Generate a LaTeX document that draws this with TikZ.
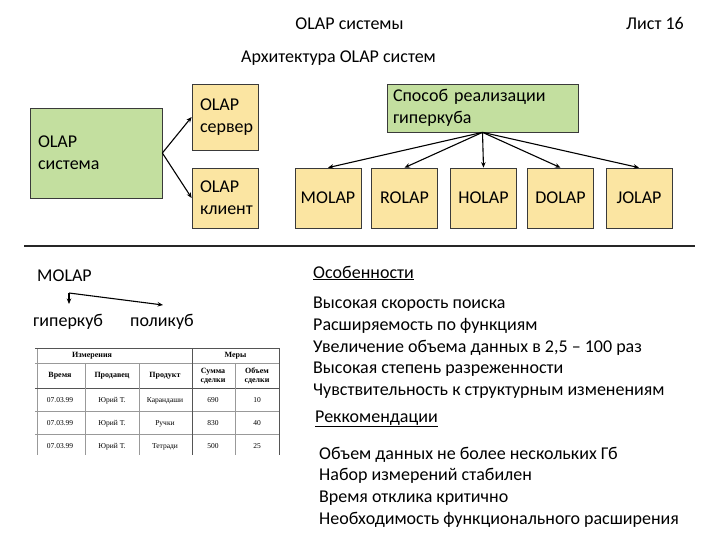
\documentclass[tikz,border=0pt]{standalone}
\usepackage{fontspec}
\setmainfont{Carlito}
\newfontfamily\tabfont{Liberation Serif}
\usetikzlibrary{arrows.meta}
\definecolor{boxgreen}{HTML}{C3DF9F}
\definecolor{boxyellow}{HTML}{FBE5A2}
\definecolor{boxline}{HTML}{3A3A3A}
\definecolor{tabline}{HTML}{555555}
\definecolor{tabthin}{HTML}{999999}
\begin{document}
\begin{tikzpicture}[x=1pt,y=-1pt,
  every node/.style={font=\fontsize{18}{22}\selectfont, inner sep=0pt},
  gbox/.style={draw=boxline, line width=0.7pt, fill=boxgreen, align=left, inner ysep=2pt},
  ybox/.style={draw=boxline, line width=0.7pt, fill=boxyellow, inner ysep=2pt},
  arr/.style={line width=1.1pt, -{Stealth[length=5.5pt,width=4.5pt]}},
  txt/.style={anchor=base west},
  tabh/.style={font=\tabfont\bfseries\fontsize{8}{9}\selectfont, align=center},
  tabd/.style={font=\tabfont\fontsize{7.5}{9}\selectfont, anchor=base}]
\useasboundingbox (0,0) rectangle (720,540);
\fill[white] (0,0) rectangle (720,540);

% header
\node[anchor=base] (title) at (349.5,30) {OLAP системы};
\node[txt] (sheet) at (626,30) {Лист 16};
\node[txt] (arch) at (241,63) {Архитектура OLAP систем};

% top-left
\node[gbox, minimum width=132pt, minimum height=90pt, text width=116pt, inner xsep=8pt] (sys) at (96,153) {OLAP\\система};
\node[ybox, align=left, minimum width=66pt, minimum height=66pt, text width=50pt, inner xsep=8pt] (srv) at (225,117) {OLAP\\сервер};
\node[ybox, align=left, minimum width=66pt, minimum height=60pt, text width=50pt, inner xsep=8pt] (cli) at (225,198) {OLAP\\клиент};
\draw[arr] (sys.east) -- (srv.west);
\draw[arr] (sys.east) -- (cli.west);

% top-right
\node[gbox, minimum width=191pt, minimum height=48pt, text width=179pt, inner xsep=6pt] (way) at (482.5,108) {Способ реализации\\гиперкуба};
\foreach \n/\x/\t in {b1/328/MOLAP, b2/404.5/ROLAP, b3/483.5/HOLAP, b4/560.5/DOLAP, b5/639/JOLAP}{
  \node[ybox, minimum width=66pt, minimum height=60pt] (\n) at (\x,198) {\t};
}
\foreach \n in {b1,b2,b3,b4,b5}{
  \draw[arr] (way.south) -- (\n.north);
}

% separator
\coordinate (sepL) at (24,246);
\coordinate (sepR) at (695,246);
\draw[line width=1.1pt, black!85] (sepL) -- (sepR);

% MOLAP fork
\node[txt] (molap) at (37,281) {MOLAP};
\node[txt] (giper) at (33,326) {гиперкуб};
\node[txt] (poly) at (130,326) {поликуб};
\coordinate (fork) at (69,293);
\coordinate (gend) at (69,304);
\coordinate (pend) at (163,305);
\draw[arr] (fork) -- (gend);
\draw[arr] (fork) -- (pend);

% table
\draw[tabthin, line width=0.5pt] (37,348) -- (37,455);
\draw[tabline, line width=0.9pt] (35,348) -- (279,348);
\draw[tabthin, line width=0.6pt] (35,363) -- (279,363);
\draw[tabline, line width=1pt] (35,388) -- (279,388);
\draw[tabthin, line width=0.6pt] (35,411) -- (279,411);
\draw[tabthin, line width=0.6pt] (35,434) -- (279,434);
\draw[tabthin, line width=0.6pt] (85,363) -- (85,455);
\draw[tabthin, line width=0.6pt] (139,363) -- (139,455);
\draw[tabline, line width=0.8pt] (192,348) -- (192,455);
\draw[tabthin, line width=0.6pt] (235,363) -- (235,455);
\draw[tabline, line width=0.8pt] (279,348) -- (279,455);
\node[tabh] (h1) at (92,355.5) {Измерения};
\node[tabh] (h2) at (235.5,355.5) {Меры};
\node[tabh] (c1) at (60,376) {Время};
\node[tabh] (c2) at (112,376) {Продавец};
\node[tabh] (c3) at (165,376) {Продукт};
\node[tabh] (c4) at (213,376) {Сумма\\сделки};
\node[tabh] (c5) at (257,376) {Объем\\сделки};
\foreach \y/\p/\s/\v in {402/Карандаши/690/10, 425/Ручки/830/40, 448/Тетради/500/25}{
  \node[tabd] at (60,\y) {07.03.99};
  \node[tabd] at (112,\y) {Юрий Т.};
  \node[tabd] at (165,\y) {\p};
  \node[tabd] at (213,\y) {\s};
  \node[tabd] at (257,\y) {\v};
}

% right text
\node[txt] (feat) at (313,278) {\underline{Особенности}};
\node[txt] (f1) at (313,308) {Высокая скорость поиска};
\node[txt] (f2) at (313,330) {Расширяемость по функциям};
\node[txt] (f3) at (313,352) {Увеличение объема данных в 2,5 – 100 раз};
\node[txt] (f4) at (313,373) {Высокая степень разреженности};
\node[txt] (f5) at (313,395) {Чувствительность к структурным изменениям};
\node[txt] (rec) at (315,422) {\underline{Реккомендации}};
\node[txt] (r1) at (319,459) {Объем данных не более нескольких Гб};
\node[txt] (r2) at (319,480) {Набор измерений стабилен};
\node[txt] (r3) at (319,502) {Время отклика критично};
\node[txt] (r4) at (319,524) {Необходимость функционального расширения};
\end{tikzpicture}
\end{document}
